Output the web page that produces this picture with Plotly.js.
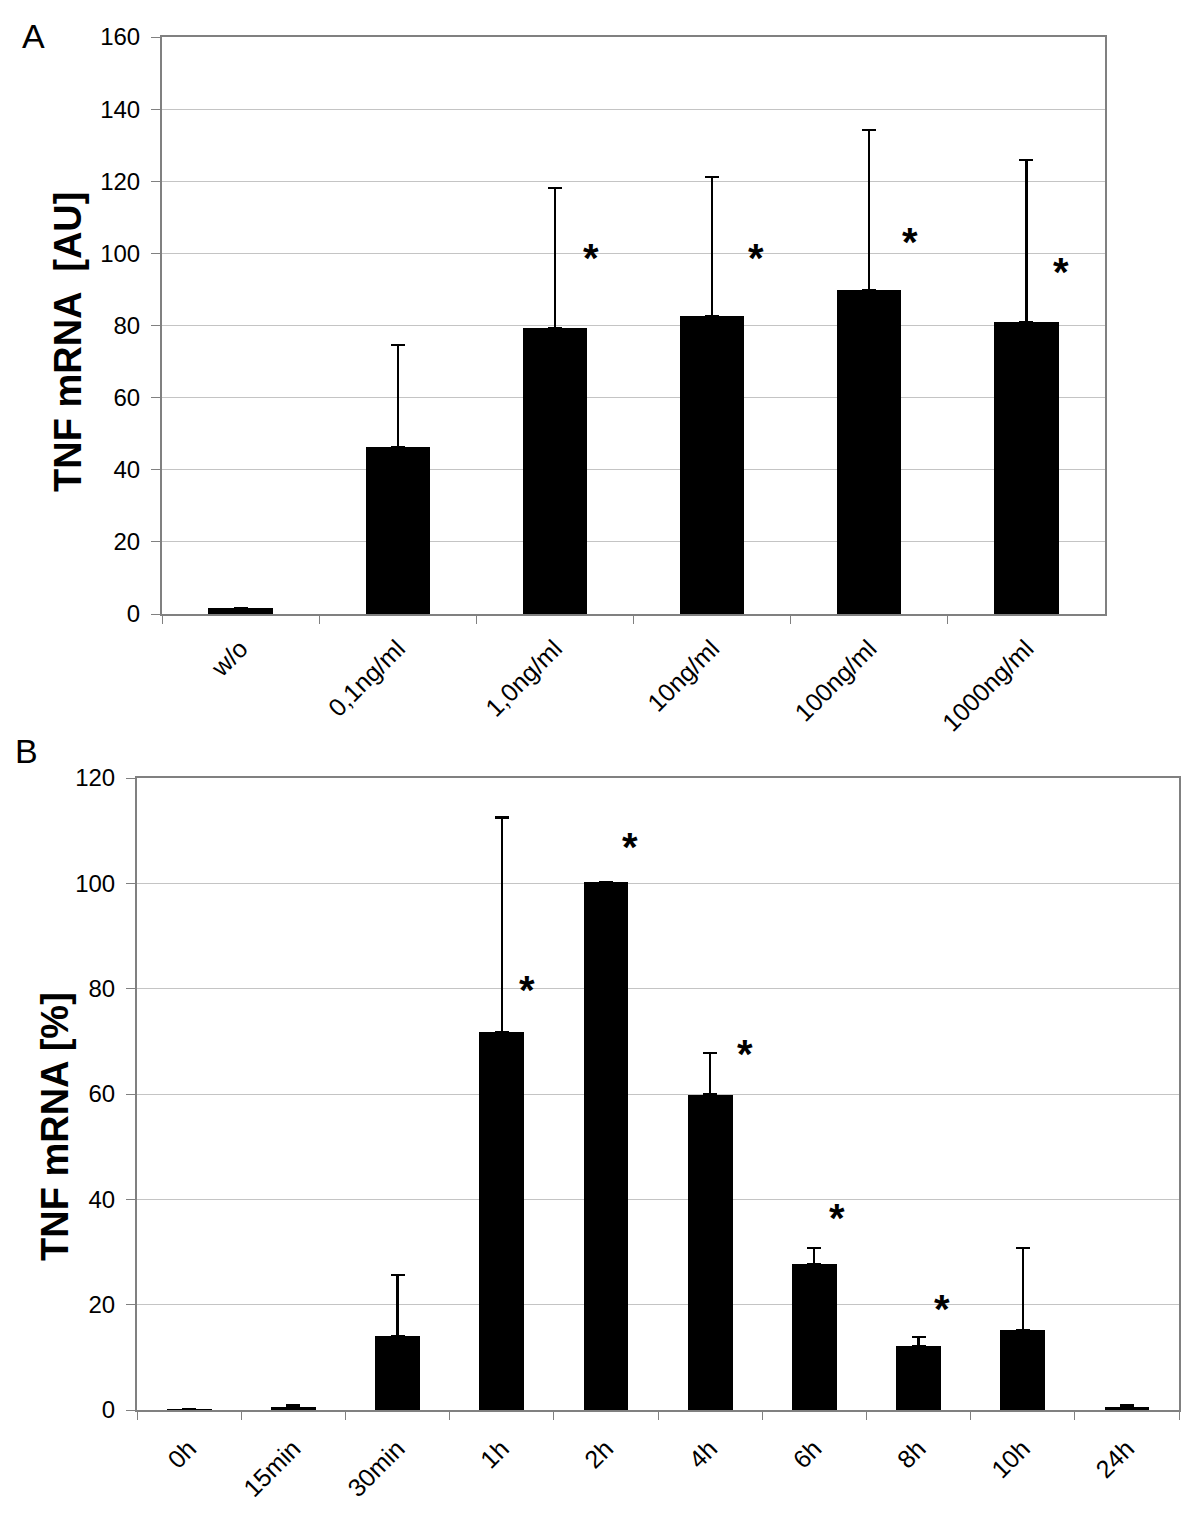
<!DOCTYPE html>
<html>
<head>
<meta charset="utf-8">
<script src="https://cdn.plot.ly/plotly-3.0.1.min.js"></script>
<style>html,body{margin:0;padding:0;background:#fff;}#chart{width:1200px;height:1516px;}</style>
</head>
<body>
<div id="chart"></div>
<script>
// Panel A: dose response
const doseLabels = ["w/o", "0,1ng/ml", "1,0ng/ml", "10ng/ml", "100ng/ml", "1000ng/ml"];
const doseMean = [1.6, 46.3, 79.3, 82.6, 89.8, 81.0];
const doseUpper = [1.6, 74.6, 118.1, 121.2, 134.2, 125.9];
const doseStarCats = ["1,0ng/ml", "10ng/ml", "100ng/ml", "1000ng/ml"];
const doseStarY = [99.8, 99.8, 104.3, 96.0];

// Panel B: time course
const timeLabels = ["0h", "15min", "30min", "1h", "2h", "4h", "6h", "8h", "10h", "24h"];
const timeMean = [0.2, 0.6, 14.0, 71.7, 100.2, 59.9, 27.7, 12.2, 15.2, 0.6];
const timeUpper = [0.2, 0.95, 25.6, 112.5, 100.2, 67.8, 30.8, 13.9, 30.8, 0.95];
const timeStarCats = ["1h", "2h", "4h", "6h", "8h"];
const timeStarY = [80.6, 107.6, 68.3, 37.2, 19.9];

const W = 1200, H = 1516;
const font = "Liberation Sans, Arial, sans-serif";

function errArr(mean, upper) { return upper.map((u, i) => Math.max(0, u - mean[i])); }

const traces = [
  {
    type: "bar", x: doseLabels, y: doseMean, xaxis: "x", yaxis: "y",
    marker: {color: "#000", line: {color: "#000", width: 0}}, width: 0.41,
    error_y: {type: "data", symmetric: false, array: errArr(doseMean, doseUpper),
      arrayminus: doseMean.map(() => 0), color: "#000", thickness: 2.2, width: 7},
    hoverinfo: "none"
  },
  {
    type: "bar", x: timeLabels, y: timeMean, xaxis: "x2", yaxis: "y2",
    marker: {color: "#000", line: {color: "#000", width: 0}}, width: 0.43,
    error_y: {type: "data", symmetric: false, array: errArr(timeMean, timeUpper),
      arrayminus: timeMean.map(() => 0), color: "#000", thickness: 2.2, width: 7},
    hoverinfo: "none"
  }
];

const annotations = [];
const starFont = {family: font, size: 40, color: "#000"};
const starShiftA = [36, 44, 41, 35];
doseStarCats.forEach((c, i) => annotations.push({
  xref: "x", yref: "y", x: c, y: doseStarY[i], xshift: starShiftA[i], yshift: -4,
  text: "<b>*</b>", showarrow: false, font: starFont
}));
const starShiftB = [25, 24, 35, 23, 23];
timeStarCats.forEach((c, i) => annotations.push({
  xref: "x2", yref: "y2", x: c, y: timeStarY[i], xshift: starShiftB[i], yshift: -4,
  text: "<b>*</b>", showarrow: false, font: starFont
}));
// Panel letters
annotations.push({xref: "paper", yref: "paper", x: 20 / W, y: 1 - 36 / H, xanchor: "left", yanchor: "middle",
  text: "A", showarrow: false, font: {family: font, size: 34, color: "#000"}});
annotations.push({xref: "paper", yref: "paper", x: 13 / W, y: 1 - 751 / H, xanchor: "left", yanchor: "middle",
  text: "B", showarrow: false, font: {family: font, size: 34, color: "#000"}});
// Y axis titles
annotations.push({xref: "paper", yref: "paper", x: 68 / W, y: 1 - 342 / H, xanchor: "center", yanchor: "middle",
  textangle: -90, text: "<b>TNF mRNA  [AU]</b>", showarrow: false, font: {family: font, size: 38, color: "#000"}});
annotations.push({xref: "paper", yref: "paper", x: 55 / W, y: 1 - 1127 / H, xanchor: "center", yanchor: "middle",
  textangle: -90, text: "<b>TNF mRNA [%]</b>", showarrow: false, font: {family: font, size: 38, color: "#000"}});

const axisCommon = {
  showline: true, linecolor: "#808080", linewidth: 2, mirror: true,
  tickfont: {family: font, size: 24, color: "#000"}, zeroline: false
};
const xCommon = {
  type: "category", tickangle: -45, tickson: "boundaries", ticks: "outside", ticklen: 8,
  tickcolor: "#808080", tickwidth: 1, showgrid: false, tickfont: {family: font, size: 25, color: "#000"}
};
const yCommon = {
  ticks: "outside", ticklen: 9, tickcolor: "#808080", tickwidth: 1, dtick: 20,
  showgrid: true, gridcolor: "#c4c4c4", gridwidth: 1, ticklabelstandoff: 6
};

const layout = {
  width: W, height: H, margin: {l: 0, r: 0, t: 0, b: 0},
  paper_bgcolor: "#fff", plot_bgcolor: "#fff", showlegend: false, bargap: 0,
  font: {family: font, color: "#000"},
  xaxis: Object.assign({}, axisCommon, xCommon, {
    domain: [162 / W, 1105 / W], anchor: "y", ticklabelstandoff: 8
  }),
  yaxis: Object.assign({}, axisCommon, yCommon, {
    domain: [1 - 614 / H, 1 - 37 / H], anchor: "x", range: [0, 160]
  }),
  xaxis2: Object.assign({}, axisCommon, xCommon, {
    domain: [137 / W, 1179 / W], anchor: "y2", ticklabelstandoff: 12
  }),
  yaxis2: Object.assign({}, axisCommon, yCommon, {
    domain: [1 - 1410 / H, 1 - 778 / H], anchor: "x2", range: [0, 120]
  }),
  annotations: annotations
};

Plotly.newPlot("chart", traces, layout, {staticPlot: true, displayModeBar: false});
</script>
</body>
</html>
